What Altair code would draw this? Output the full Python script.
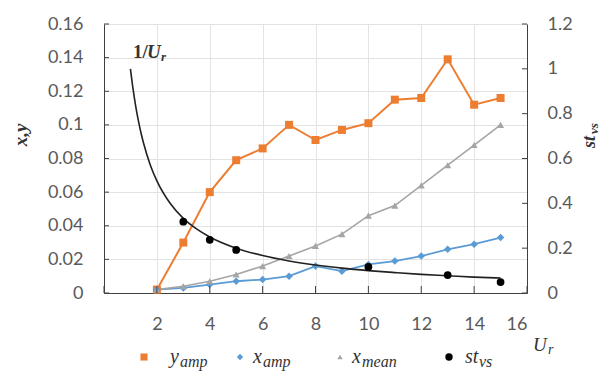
import altair as alt
import pandas as pd

# ---- data ----
ur = [2, 3, 4, 5, 6, 7, 8, 9, 10, 11, 12, 13, 14, 15]
y_amp = [0.002, 0.030, 0.060, 0.079, 0.086, 0.100, 0.091, 0.097, 0.101, 0.115, 0.116, 0.139, 0.112, 0.116]
x_amp = [0.002, 0.003, 0.005, 0.007, 0.008, 0.010, 0.016, 0.013, 0.017, 0.019, 0.022, 0.026, 0.029, 0.033]
x_mean = [0.002, 0.004, 0.007, 0.011, 0.016, 0.022, 0.028, 0.035, 0.046, 0.052, 0.064, 0.076, 0.088, 0.100]
st_ur = [3, 4, 5, 10, 13, 15]
st_vs = [0.318, 0.237, 0.192, 0.116, 0.080, 0.049]
inv_ur_x = [1, 1.1, 1.2, 1.3, 1.4, 1.5, 1.75, 2, 2.5, 3, 3.5, 4, 5, 6, 7, 8, 9, 10, 11, 12, 13, 14, 15]
inv_ur_y = [1.000, 0.909, 0.833, 0.769, 0.714, 0.667, 0.571, 0.500, 0.400, 0.333, 0.286, 0.250, 0.200,
            0.167, 0.143, 0.125, 0.111, 0.100, 0.091, 0.083, 0.077, 0.071, 0.067]
x_ticks = [0, 2, 4, 6, 8, 10, 12, 14, 16]
left_ticks = [0, 0.02, 0.04, 0.06, 0.08, 0.10, 0.12, 0.14, 0.16]
right_ticks = [0, 0.2, 0.4, 0.6, 0.8, 1.0, 1.2]
series_names = ["y_amp", "x_amp", "x_mean"]
legend_main = ["y", "x", "x", "st"]
legend_sub = ["amp", "amp", "mean", "vs"]

W, H = 423, 269
ORANGE, BLUE, GRAY, BLACK = "#ED7D31", "#5B9BD5", "#A5A5A5", "#000000"
AXIS_COL = "#404040"
LABEL_COL = "#595959"
GRID_COL = "#E3E3E3"
NUMFONT = "Lato"
MATHFONT = "Liberation Serif"

rows = []
for name, vals in zip(series_names, [y_amp, x_amp, x_mean]):
    for u, v in zip(ur, vals):
        rows.append({"Ur": u, "value": v, "series": name})
df_left = pd.DataFrame(rows)
df_st = pd.DataFrame({"Ur": st_ur, "v": st_vs})
df_curve = pd.DataFrame({"Ur": inv_ur_x, "v": inv_ur_y})
df_lt = pd.DataFrame({"value": left_ticks})
df_rt = pd.DataFrame({"v": right_ticks})
df_xt = pd.DataFrame({"Ur": x_ticks})

X = alt.X("Ur:Q", scale=alt.Scale(domain=[0, 16], nice=False, zero=False),
          axis=alt.Axis(values=x_ticks, labelExpr="datum.value == 0 ? '' : datum.label",
                        grid=True, gridColor=GRID_COL, ticks=False, labelPadding=22,
                        domainColor=AXIS_COL, labelColor=LABEL_COL, labelFont=NUMFONT,
                        labelFontSize=18, title=None))
YL = alt.Y("value:Q", scale=alt.Scale(domain=[0, 0.16], nice=False),
           axis=alt.Axis(orient="left", values=left_ticks, format="~g", grid=True,
                         gridColor=GRID_COL, ticks=False, labelPadding=21,
                         domainColor=AXIS_COL, labelColor=LABEL_COL, labelFont=NUMFONT,
                         labelFontSize=18, title=None))
YR = alt.Y("v:Q", scale=alt.Scale(domain=[0, 1.2], nice=False),
           axis=alt.Axis(orient="right", values=right_ticks, format="~g", grid=False,
                         ticks=False, labelPadding=20, domainColor=AXIS_COL,
                         labelColor=LABEL_COL, labelFont=NUMFONT, labelFontSize=18,
                         title=None))

color = alt.Color("series:N", scale=alt.Scale(domain=series_names, range=[ORANGE, BLUE, GRAY]),
                  legend=None)
shape = alt.Shape("series:N", scale=alt.Scale(domain=series_names,
                                              range=["square", "diamond", "triangle-up"]),
                  legend=None)
size = alt.Size("series:N", scale=alt.Scale(domain=series_names, range=[64, 50, 34]),
                legend=None)
swidth = alt.StrokeWidth("series:N", scale=alt.Scale(domain=series_names, range=[2, 1.6, 1.4]),
                         legend=None)

lines = alt.Chart(df_left).mark_line().encode(x=X, y=YL, color=color, strokeWidth=swidth,
                                              detail="series:N")
points = alt.Chart(df_left).mark_point(filled=True, opacity=1).encode(
    x=X, y=YL, color=color, shape=shape, size=size)
lticks = alt.Chart(df_lt).mark_rule(color=AXIS_COL).encode(
    y=YL, x=alt.value(0), x2=alt.value(5))
xticks = alt.Chart(df_xt).mark_rule(color=AXIS_COL).encode(
    x=X, y=alt.value(H - 7), y2=alt.value(H))
left = alt.layer(lines, points, lticks, xticks)

curve = alt.Chart(df_curve).mark_line(color="#222222", strokeWidth=1.6,
                                      interpolate="monotone").encode(x=X, y=YR)
stpts = alt.Chart(df_st).mark_circle(color=BLACK, opacity=1, size=60).encode(x=X, y=YR)
rticks = alt.Chart(df_rt).mark_rule(color=AXIS_COL).encode(
    y=YR, x=alt.value(W - 5), x2=alt.value(W))
right = alt.layer(curve, stpts, rticks)

one = alt.Data(values=[{}])


def txt(s, x, y, size=18, style="italic", weight="normal", color="#333333", angle=0,
        align="left", baseline="middle", font=MATHFONT):
    return alt.Chart(one).mark_text(text=s, font=font, fontSize=size, fontStyle=style,
                                    fontWeight=weight, color=color, angle=angle,
                                    align=align, baseline=baseline).encode(
        x=alt.value(x), y=alt.value(y))


ann = [
    # y axis titles
    txt("x,y", -83, 111, size=19, weight="bold", angle=270, align="center"),
    txt("st", 486, 124, size=18, weight="bold", angle=270, align="left"),
    txt("vs", 490, 110, size=13, weight="bold", angle=270, align="left"),
    # x title
    txt("U", 429, 321, size=19),
    txt("r", 444, 326, size=14),
    # curve label
    txt("1/", 29, 28, size=19, style="normal", weight="bold"),
    txt("U", 43, 28, size=19, weight="bold"),
    txt("r", 57, 33, size=13, weight="bold"),
]

# legend
leg_cols = [ORANGE, BLUE, GRAY, BLACK]
leg_shapes = ["square", "diamond", "triangle-up", "circle"]
leg_sizes = [50, 40, 30, 55]
leg_sym_x = [40, 136, 236, 345]
leg_txt_x = [66, 149, 248, 361]
leg_sub_dx = [10, 10, 10, 14]
LEG_Y = 333
for i in range(4):
    ann.append(alt.Chart(one).mark_point(shape=leg_shapes[i], filled=True, opacity=1,
                                         color=leg_cols[i], size=leg_sizes[i]).encode(
        x=alt.value(leg_sym_x[i]), y=alt.value(LEG_Y)))
    ann.append(txt(legend_main[i], leg_txt_x[i], LEG_Y, size=20))
    ann.append(txt(legend_sub[i], leg_txt_x[i] + leg_sub_dx[i], LEG_Y + 5, size=16))

chart = alt.layer(left, right, *ann).resolve_scale(y="independent").properties(
    width=W, height=H,
    autosize=alt.AutoSizeParams(type="none"),
    padding={"left": 104, "top": 24, "right": 606 - 104 - W, "bottom": 371 - 24 - H},
).configure_view(stroke=None)

chart.save("out.html", embed_options={"renderer": "svg", "actions": False})
